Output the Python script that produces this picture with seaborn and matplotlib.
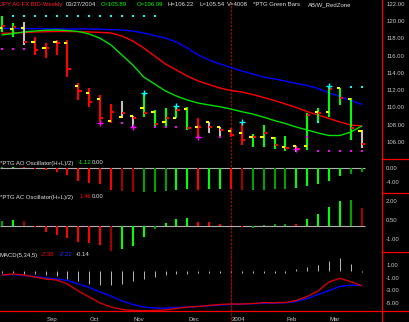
import numpy as np
import pandas as pd
import matplotlib
matplotlib.use("Agg")
import matplotlib.pyplot as plt
import matplotlib.transforms as mtransforms
from matplotlib.lines import Line2D
import seaborn as sns

sns.set_theme(style="dark")
plt.rcParams['font.family'] = ['Liberation Sans', 'DejaVu Sans']

# ---------------- data ----------------
weeks = list(range(34))
opens = [119.20, 119.06, 119.18, 117.59, 116.92, 117.62, 117.44, 112.48, 111.63, 111.00, 108.45, 108.91,
         108.99, 109.96, 109.49, 108.33, 108.79, 109.78, 107.75, 108.26, 107.75, 107.28, 106.98, 106.59,
         106.52, 106.40, 105.43, 105.51, 105.51, 109.49, 109.42, 112.21, 110.93, 107.28]
highs = [120.61, 119.76, 119.87, 118.13, 117.44, 117.82, 117.82, 112.86, 112.21, 111.43, 110.39, 110.77,
         108.99, 111.63, 109.69, 109.89, 110.19, 110.07, 108.73, 108.33, 107.75, 107.63, 108.33, 106.90,
         107.91, 106.52, 106.67, 105.51, 109.38, 109.89, 112.48, 112.28, 111.05, 107.37]
lows = [118.78, 118.13, 117.24, 116.08, 115.69, 116.08, 113.56, 110.85, 110.07, 108.33, 108.14, 108.73,
        107.56, 108.91, 107.75, 107.75, 108.73, 107.37, 106.52, 107.05, 106.59, 106.52, 105.57, 105.36,
        105.43, 105.12, 104.96, 104.85, 105.04, 108.14, 108.84, 110.27, 106.20, 105.24]
closes = [119.44, 119.29, 117.62, 116.66, 116.85, 117.44, 114.42, 111.93, 110.65, 108.73, 109.42, 109.38,
          108.79, 109.38, 108.06, 108.73, 109.69, 107.56, 107.68, 107.75, 107.37, 106.79, 106.20, 106.52,
          107.02, 105.62, 105.24, 105.16, 109.11, 109.30, 112.13, 111.05, 107.60, 105.74]
bar_zone = ['g', 'g', 'w', 'r', 'r', 'r', 'r', 'r', 'r', 'r', 'r', 'w', 'w', 'g', 'g', 'g', 'g', 'g',
            'r', 'w', 'w', 'r', 'r', 'g', 'g', 'g', 'g', 'w', 'g', 'g', 'g', 'g', 'g', 'w']

jaw = [119.18, 119.15, 119.15, 119.13, 119.12, 119.12, 119.10, 119.10, 119.10, 119.07, 119.04, 118.98,
       118.86, 118.63, 118.34, 118.05, 117.59, 116.89, 116.08, 115.50, 115.03, 114.63, 114.22, 113.87,
       113.52, 113.29, 113.06, 112.77, 112.53, 112.19, 111.66, 111.26, 110.79, 110.35]
teeth = [118.60, 118.63, 118.69, 118.75, 118.78, 118.81, 118.81, 118.78, 118.75, 118.71, 118.63, 118.28,
         117.70, 116.89, 115.96, 115.03, 114.33, 113.64, 113.06, 112.65, 112.24, 111.95, 111.78, 111.49,
         111.14, 110.79, 110.39, 109.98, 109.50, 109.11, 108.71, 108.30, 107.95, 107.83]
lips = [118.40, 118.57, 118.75, 118.86, 118.95, 118.98, 118.92, 118.81, 118.52, 118.02, 117.24, 116.08,
        114.92, 113.52, 112.71, 111.90, 111.31, 110.85, 110.50, 110.27, 110.07, 109.80, 109.49, 109.22,
        108.87, 108.46, 108.12, 107.71, 107.37, 107.02, 106.73, 106.73, 107.13, 107.83]

cyan_top_weeks = [1, 2, 3, 4, 5, 6, 7, 8, 9, 10, 11, 12, 13, 14]
cyan_top_level = 120.64
magenta_top_weeks = [0, 1, 2]
magenta_top_level = 116.74
magenta_dot_weeks = [11, 14, 15, 16, 20, 28, 29, 30, 31, 32, 33]
magenta_dot_vals = [108.21, 107.75, 107.75, 107.75, 106.59, 106.59, 104.96, 104.96, 104.96, 104.96, 104.96]
cyan_dot_weeks = [29, 32, 33]
cyan_dot_vals = [108.26, 112.40, 112.40]
up_fractal_weeks = [13, 16, 22, 30]
up_fractal_vals = [111.63, 110.19, 108.33, 112.48]
dn_fractal_weeks = [9, 12, 18, 27]
dn_fractal_vals = [108.14, 107.75, 106.52, 105.12]

ao = [0.2, 0.4, 0.15, -0.4, -0.7, -1.1, -2.0, -3.6, -4.4, -4.6, -6.3, -6.5, -6.9, -6.85, -6.75, -6.5,
      -6.3, -6.1, -6.2, -6.1, -5.9, -6.0, -6.4, -6.35, -6.2, -6.0, -5.9, -5.7, -5.2, -4.5, -3.8, -2.4,
      -1.7, -1.12]
ao_shade = ['DG', 'G', 'R', 'R', 'R', 'R', 'R', 'R', 'R', 'R', 'R', 'DR', 'DR', 'DG', 'DG', 'DG', 'G', 'G',
            'R', 'G', 'G', 'R', 'DR', 'DG', 'DG', 'DG', 'DG', 'G', 'G', 'G', 'G', 'G', 'DG', 'DG']
ac = [0.45, 0.53, 0.45, -0.08, -0.45, -0.66, -0.95, -1.22, -1.35, -1.48, -1.93, -1.80, -1.56, -0.82,
      -0.25, 0.30, 0.55, 0.65, 0.35, 0.32, 0.20, 0.05, -0.05, -0.13, 0.10, 0.15, 0.20, 0.20, 0.55, 1.00,
      1.55, 2.03, 2.05, 1.46]
ac_shade = ['DG', 'G', 'DR', 'R', 'R', 'R', 'R', 'R', 'R', 'R', 'DR', 'G', 'G', 'G', 'DG', 'G', 'G', 'G',
            'R', 'R', 'R', 'R', 'R', 'DG', 'DG', 'DG', 'DG', 'R', 'G', 'G', 'G', 'G', 'DG', 'DR']

macd = [-0.60, -0.44, -0.60, -0.91, -1.23, -1.39, -2.02, -3.12, -4.06, -5.01, -5.64, -6.03, -6.19, -6.22,
        -6.19, -6.11, -5.87, -5.64, -5.56, -5.40, -5.24, -5.17, -5.17, -5.09, -4.96, -4.96, -4.93, -4.61,
        -3.98, -3.12, -1.70, -1.12, -1.65, -2.30]
signal = [-0.60, -0.52, -0.68, -0.83, -1.07, -1.23, -1.46, -2.02, -2.57, -3.28, -3.91, -4.69, -5.24, -5.64,
          -5.80, -5.84, -5.72, -5.64, -5.56, -5.45, -5.32, -5.24, -5.17, -5.13, -5.06, -5.01, -4.98, -4.77,
          -4.30, -3.67, -3.04, -2.41, -2.20, -2.22]
hist = [-0.3, -0.3, -0.4, -0.5, -0.6, -0.8, -1.2, -1.6, -2.0, -2.2, -2.2, -2.0, -1.6, -1.2, -0.9, -0.6,
        -0.4, -0.4, -0.3, -0.3, -0.3, -0.2, -0.3, -0.3, -0.3, -0.3, -0.3, 0.3, 0.6, 1.0, 1.6, 2.1, 1.2, -0.14]

month_weeks = [4, 8, 12, 17, 21, 26, 30, 34]
month_labels = ['Sep', 'Oct', 'Nov', 'Dec', '2004', 'Feb', 'Mar', '']
year_break_week = 21

price_ticks = [122, 120, 118, 116, 114, 112, 110, 108, 106]
ao_ticks = [0, -4]
ac_ticks = [2, 0.5, -1]
macd_ticks = [1, -1, -3, -5]

# ---------------- style ----------------
W, H = 409, 322
FS = 4.3
RED, DRED, GRN, DGRN = '#ff0000', '#a00000', '#00ff00', '#00a000'
GRAY = '#c8c8c8'
shade = {'R': RED, 'DR': DRED, 'G': GRN, 'DG': DGRN}
zone = {'g': GRN, 'r': RED, 'w': '#c0c0c0'}

fig = plt.figure(figsize=(W / 100, H / 100), dpi=100, facecolor='black')
XL = (-2 / 10.9, 380 / 10.9)


def panel(top, bottom):
    ax = fig.add_axes([0, 1 - bottom / H, 382 / W, (bottom - top) / H])
    ax.set_facecolor('black')
    for s in ax.spines.values():
        s.set_visible(False)
    ax.grid(False)
    ax.set_xlim(*XL)
    ax.yaxis.tick_right()
    ax.tick_params(axis='y', length=0, pad=3, labelsize=FS, labelcolor=GRAY)
    ax.tick_params(axis='x', length=0, labelbottom=False)
    ax.set_xlabel('')
    ax.set_ylabel('')
    ax.axvline(year_break_week, color='#b00000', lw=0.8, dashes=(2.2, 1.2), zorder=0)
    return ax


wk = np.array(weeks, dtype=float)

# ---- price panel ----
axp = panel(0, 159)
axp.set_ylim(104.0, 122.465)
for line, col in [(jaw, '#0000ff'), (teeth, '#ff0000'), (lips, '#00e000')]:
    sns.lineplot(x=wk, y=line, ax=axp, color=col, linewidth=1.0, zorder=2)
axp.vlines(wk, lows, highs, colors=[zone[z] for z in bar_zone], linewidth=1.5, zorder=3)
axp.hlines(opens, wk - 0.3, wk, colors='#ffff00', linewidth=1.5, zorder=4)
axp.hlines(closes, wk, wk + 0.3, colors=RED, linewidth=1.5, zorder=4)
sns.scatterplot(x=cyan_top_weeks, y=[cyan_top_level] * len(cyan_top_weeks), ax=axp, marker='s', s=4,
                color='#00ffff', linewidth=0, zorder=5)
sns.scatterplot(x=magenta_top_weeks, y=[magenta_top_level] * len(magenta_top_weeks), ax=axp, marker='s',
                s=4, color='#ff00ff', linewidth=0, zorder=5)
sns.scatterplot(x=magenta_dot_weeks, y=magenta_dot_vals, ax=axp, marker='s', s=4, color='#ff00ff',
                linewidth=0, zorder=5)
sns.scatterplot(x=cyan_dot_weeks, y=cyan_dot_vals, ax=axp, marker='s', s=4, color='#00ffff',
                linewidth=0, zorder=5)
sns.scatterplot(x=up_fractal_weeks, y=up_fractal_vals, ax=axp, marker='+', s=16, color='#00ffff',
                linewidth=1.0, zorder=6)
sns.scatterplot(x=dn_fractal_weeks, y=dn_fractal_vals, ax=axp, marker='+', s=16, color='#ff00ff',
                linewidth=1.0, zorder=6)
axp.set_yticks(price_ticks)
axp.set_yticklabels([f"{v:.2f}" for v in price_ticks])

# ---- AO panel ----
axo = panel(159, 193)
axo.set_ylim(-7.14, 2.57)
axo.hlines(0, XL[0], wk[-1] + 0.3, colors='#b0b0b0', linewidth=0.8, zorder=1)
axo.vlines(wk, 0, ao, colors=[shade[c] for c in ao_shade], linewidth=1.5, zorder=2)
axo.set_yticks(ao_ticks)
axo.set_yticklabels([f"{v:.2f}" for v in ao_ticks])

# ---- AC panel ----
axc = panel(193, 252)
axc.set_ylim(-2.04, 2.64)
axc.hlines(0, XL[0], wk[-1] + 0.3, colors='#b0b0b0', linewidth=0.8, zorder=1)
axc.vlines(wk, 0, ac, colors=[shade[c] for c in ac_shade], linewidth=1.5, zorder=2)
axc.set_yticks(ac_ticks)
axc.set_yticklabels([f"{v:.2f}" for v in ac_ticks])

# ---- MACD panel ----
axm = panel(252, 311)
axm.set_ylim(-6.27, 3.02)
axm.vlines(wk, 0, hist, colors='#b8b8b8', linewidth=0.7, zorder=1)
sns.lineplot(x=wk, y=signal, ax=axm, color='#0000ff', linewidth=1.0, zorder=2)
sns.lineplot(x=wk, y=macd, ax=axm, color='#d00000', linewidth=1.0, zorder=3)
axm.set_yticks(macd_ticks)
axm.set_yticklabels([f"{v:.2f}" for v in macd_ticks])
axm.axvline(year_break_week, ymin=-0.2, ymax=1, color='#b00000', lw=0.8, dashes=(2.2, 1.2),
            clip_on=False, zorder=0)
axm.set_xticks(month_weeks)
axm.set_xticklabels(month_labels)
axm.tick_params(axis='x', length=3, width=0.8, color=RED, direction='out', pad=1.5,
                labelbottom=True, labelsize=FS, labelcolor=GRAY)
shift = mtransforms.ScaledTranslation(1 / 100, 0, fig.dpi_scale_trans)
for lbl in axm.get_xticklabels():
    lbl.set_horizontalalignment('left')
    lbl.set_transform(lbl.get_transform() + shift)

# ---- frame lines ----
fig.add_artist(Line2D([0, 1], [1 - 311 / H] * 2, color=RED, lw=0.9, transform=fig.transFigure))
fig.add_artist(Line2D([382 / W] * 2, [0, 1], color=RED, lw=0.9, transform=fig.transFigure))
for yy in (159, 193, 252):
    fig.add_artist(Line2D([382 / W, 1], [1 - yy / H] * 2, color=RED, lw=0.9, transform=fig.transFigure))


# ---- texts ----
def ftext(x, y, s, color):
    fig.text(x / W, 1 - y / H, s, color=color, fontsize=FS, ha='left', va='center')


for x, s, c in [(0, 'JPY A0-FX BID-Weekly', '#ff2020'), (66, '03/27/2004', '#e0e0e0'),
                (101, 'C=105.89', GRN), (137, 'O=106.09', GRN), (168, 'H=106.22', '#e0e0e0'),
                (199, 'L=105.54', '#e0e0e0'), (227, 'V=4008', '#e0e0e0'),
                (253, '*PTG Green Bars', '#e0e0e0'), (308, 'AB/W_RedZone', '#e0e0e0')]:
    ftext(x, 4.5, s, c)

for x, s, c in [(0, '*PTG AO Oscillator(H+L)/2)', '#e0e0e0'), (78, '-1.12', GRN), (92, '0.00', '#e0e0e0')]:
    ftext(x, 163, s, c)
for x, s, c in [(0, '*PTG AC Oscillator(H+L)/2)', '#e0e0e0'), (80, '1.46', RED), (92, '0.00', '#e0e0e0')]:
    ftext(x, 197, s, c)
for x, s, c in [(0, 'MACD(5,34,5)', '#e0e0e0'), (41, '-2.36', RED), (59, '-2.22', '#3030ff'),
                (76, '-0.14', '#e0e0e0')]:
    ftext(x, 255, s, c)

fig.savefig('out.png', dpi=100, facecolor='black')
